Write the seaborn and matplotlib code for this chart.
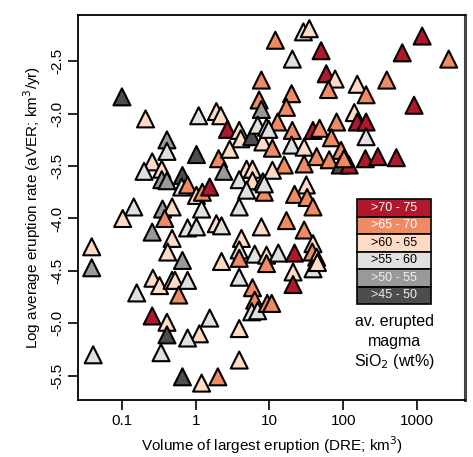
import numpy as np
import pandas as pd
import seaborn as sns
import matplotlib.pyplot as plt
from matplotlib.patches import Rectangle

# log10 of volume of largest eruption (km3, DRE)
log_vol = [-1.00, -0.68, -0.39, -0.39, -0.59, -0.70, -0.46, -0.46, -0.39, -0.84, -0.45, -0.32,
           0.89, 0.86, 0.89, 0.04, 0.28, 0.34, 0.43, 0.59, 0.61, 0.76, 0.84, 0.96, 0.91,
           0.01, 0.31, 0.46, 0.38, -0.18, -0.19, -0.11, 0.01, 0.09, 0.19, 0.69, 0.77, 0.59,
           0.77, 0.69, 0.91, 0.93, 0.08, 0.59,
           1.46, 1.54, 1.08, 1.70, 1.31, 1.77, 1.89, 1.80, 2.19, 1.30, 1.23, 1.11, 0.99,
           1.31, 1.59, 1.68, 1.91, 2.15, 2.19, 1.30, 1.47, 1.84, 1.97, 1.04, 1.47, 1.64,
           1.81, 1.96, 2.08, 2.01, 1.20, 1.04, 1.50, 1.34, 1.51, 1.59, 0.93,
           3.07, 2.80, 3.43, 2.59, 2.31, 2.96, 2.31, 2.31, 2.30, 2.47, 2.72,
           -0.99, -0.42, -0.59, -1.41, -1.41, -0.58, -0.49, -0.32, -0.80, -0.59, -0.39,
           -0.39, -0.47, -1.39, -0.32, -0.38,
           -0.11, 0.01, 0.28, 0.35, 0.89, -0.18, 0.35, 0.62, 0.59, 0.59, 0.80, 0.96,
           -0.28, -0.11, -0.23, 0.59, 0.77, 0.80, 0.76, 0.84, 0.97, 0.19, 0.05, -0.11,
           0.59, 0.59, -0.18, 0.08, 0.30,
           1.23, 1.47, 1.12, 1.34, 1.59, 1.58, 1.64, 1.59, 1.65, 1.32, 1.32, 1.03, 0.96]

# log average eruption rate (km3/yr)
log_rate = [-2.84, -3.05, -3.25, -3.36, -3.46, -3.55, -3.53, -3.63, -3.64, -3.89, -3.91, -3.89,
            -2.68, -2.87, -2.96, -3.02, -2.98, -3.02, -3.15, -3.16, -3.24, -3.22, -3.11, -3.13, -3.27,
            -3.39, -3.43, -3.34, -3.55, -3.59, -3.70, -3.68, -3.78, -3.75, -3.70, -3.53, -3.53, -3.63,
            -3.64, -3.73, -3.65, -3.75, -3.91, -3.89,
            -2.22, -2.19, -2.30, -2.40, -2.48, -2.62, -2.67, -2.77, -2.72, -2.81, -2.94, -3.08, -3.15,
            -3.16, -3.16, -3.14, -3.08, -2.99, -3.08, -3.30, -3.32, -3.23, -3.35, -3.33, -3.48, -3.41,
            -3.44, -3.49, -3.49, -3.43, -3.49, -3.54, -3.68, -3.77, -3.80, -3.89, -3.67,
            -2.26, -2.42, -2.48, -2.68, -2.82, -2.92, -3.08, -3.22, -3.43, -3.41, -3.42,
            -4.00, -4.00, -4.13, -4.27, -4.47, -4.57, -4.64, -4.59, -4.71, -4.93, -4.99,
            -5.11, -5.28, -5.30, -4.19, -4.32,
            -4.09, -4.08, -4.05, -4.07, -4.08, -4.40, -4.41, -4.19, -4.30, -4.38, -4.34, -4.35,
            -4.59, -4.59, -4.73, -4.56, -4.66, -4.78, -4.89, -4.88, -4.81, -4.95, -5.10, -5.14,
            -5.05, -5.35, -5.51, -5.57, -5.51,
            -4.02, -4.11, -4.33, -4.33, -4.24, -4.32, -4.37, -4.48, -4.42, -4.51, -4.63, -4.81, -4.43]

# average erupted SiO2 class
sio2 = ['>45 - 50', '>60 - 65', '>50 - 55', '>55 - 60', '>60 - 65', '>55 - 60', '>60 - 65', '>50 - 55',
        '>50 - 55', '>55 - 60', '>50 - 55', '>60 - 65',
        '>65 - 70', '>65 - 70', '>50 - 55', '>55 - 60', '>60 - 65', '>60 - 65', '>70 - 75', '>60 - 65',
        '>60 - 65', '>45 - 50', '>55 - 60', '>55 - 60', '>60 - 65',
        '>45 - 50', '>65 - 70', '>60 - 65', '>50 - 55', '>45 - 50', '>55 - 60', '>65 - 70', '>60 - 65',
        '>65 - 70', '>70 - 75', '>60 - 65', '>60 - 65', '>55 - 60',
        '>60 - 65', '>55 - 60', '>55 - 60', '>65 - 70', '>55 - 60', '>55 - 60',
        '>55 - 60', '>60 - 65', '>65 - 70', '>70 - 75', '>55 - 60', '>70 - 75', '>60 - 65', '>65 - 70',
        '>60 - 65', '>65 - 70', '>65 - 70', '>65 - 70', '>55 - 60',
        '>65 - 70', '>70 - 75', '>65 - 70', '>65 - 70', '>60 - 65', '>70 - 75', '>55 - 60', '>60 - 65',
        '>65 - 70', '>65 - 70', '>65 - 70', '>65 - 70', '>65 - 70',
        '>65 - 70', '>45 - 50', '>70 - 75', '>65 - 70', '>65 - 70', '>60 - 65', '>60 - 65', '>65 - 70',
        '>65 - 70', '>65 - 70', '>55 - 60',
        '>70 - 75', '>70 - 75', '>65 - 70', '>65 - 70', '>65 - 70', '>70 - 75', '>70 - 75', '>55 - 60',
        '>70 - 75', '>70 - 75', '>70 - 75',
        '>60 - 65', '>65 - 70', '>50 - 55', '>60 - 65', '>50 - 55', '>60 - 65', '>60 - 65', '>60 - 65',
        '>55 - 60', '>70 - 75', '>60 - 65',
        '>45 - 50', '>55 - 60', '>55 - 60', '>60 - 65', '>60 - 65',
        '>55 - 60', '>55 - 60', '>60 - 65', '>55 - 60', '>60 - 65', '>50 - 55', '>60 - 65', '>60 - 65',
        '>55 - 60', '>65 - 70', '>55 - 60', '>60 - 65',
        '>60 - 65', '>55 - 60', '>65 - 70', '>55 - 60', '>65 - 70', '>65 - 70', '>55 - 60', '>55 - 60',
        '>65 - 70', '>55 - 60', '>60 - 65', '>55 - 60',
        '>60 - 65', '>60 - 65', '>45 - 50', '>60 - 65', '>65 - 70',
        '>65 - 70', '>65 - 70', '>55 - 60', '>70 - 75', '>60 - 65', '>65 - 70', '>60 - 65', '>55 - 60',
        '>60 - 65', '>60 - 65', '>70 - 75', '>65 - 70', '>65 - 70']

classes = ['>70 - 75', '>65 - 70', '>60 - 65', '>55 - 60', '>50 - 55', '>45 - 50']
colors = ['#B2182B', '#EF8A62', '#FDDBC7', '#E0E0E0', '#999999', '#4D4D4D']
palette = dict(zip(classes, colors))
label_colors = ['white', 'white', 'black', 'black', '#eeeeee', '#eeeeee']

df = pd.DataFrame({'volume': 10 ** np.array(log_vol), 'rate': log_rate, 'sio2': sio2})

sns.set_style('white')
plt.rcParams['font.family'] = ['Liberation Sans', 'DejaVu Sans']
plt.rcParams['text.color'] = 'black'
plt.rcParams['axes.labelcolor'] = 'black'

fig = plt.figure(figsize=(4.73, 4.57), dpi=100)
ax = fig.add_axes([0.165, 0.125, 0.818, 0.842])

sns.scatterplot(data=df, x='volume', y='rate', hue='sio2', palette=palette, marker='^',
                s=150, edgecolor='black', linewidth=1.5, legend=False, ax=ax, zorder=3)

ax.set_xscale('log')
ax.set_xlim(0.0254, 4470)
ax.set_ylim(-5.73, -2.06)
ax.set_xticks([0.1, 1, 10, 100, 1000])
ax.set_xticklabels(['0.1', '1', '10', '100', '1000'])
ax.xaxis.set_minor_locator(plt.NullLocator())
ax.set_yticks([-2.5, -3.0, -3.5, -4.0, -4.5, -5.0, -5.5])
ax.set_yticklabels(['-2.5', '-3.0', '-3.5', '-4.0', '-4.5', '-5.0', '-5.5'], rotation=90, va='center')
ax.tick_params(axis='both', direction='out', length=7, width=1.2, labelsize=11, pad=3,
               bottom=True, left=True, colors='black')
for sp in ax.spines.values():
    sp.set_color('black')
    sp.set_linewidth(1.3)
ax.spines['right'].set_linewidth(2.2)
ax.spines['right'].set_color('#444444')

ax.set_xlabel('Volume of largest eruption (DRE; km$^3$)', fontsize=11, labelpad=5)
ax.set_ylabel('Log average eruption rate (aVER; km$^3$/yr)', fontsize=11, labelpad=5)

# legend boxes
x0, x1 = 0.721, 0.912
top, h = 0.522, 0.0455
for i, (c, tc) in enumerate(zip(classes, label_colors)):
    y = top - (i + 1) * h
    ax.add_patch(Rectangle((x0, y), x1 - x0, h, transform=ax.transAxes, facecolor=palette[c],
                           edgecolor='black', linewidth=1.2, zorder=5))
    ax.text((x0 + x1) / 2, y + h / 2, c, transform=ax.transAxes, ha='center', va='center',
            fontsize=9, color=tc, zorder=6)

ax.text(0.817, 0.203, 'av. erupted', transform=ax.transAxes, ha='center', va='center', fontsize=11.5)
ax.text(0.817, 0.153, 'magma', transform=ax.transAxes, ha='center', va='center', fontsize=11.5)
ax.text(0.817, 0.099, 'SiO$_2$ (wt%)', transform=ax.transAxes, ha='center', va='center', fontsize=11.5)

fig.savefig('out.png', dpi=100)
